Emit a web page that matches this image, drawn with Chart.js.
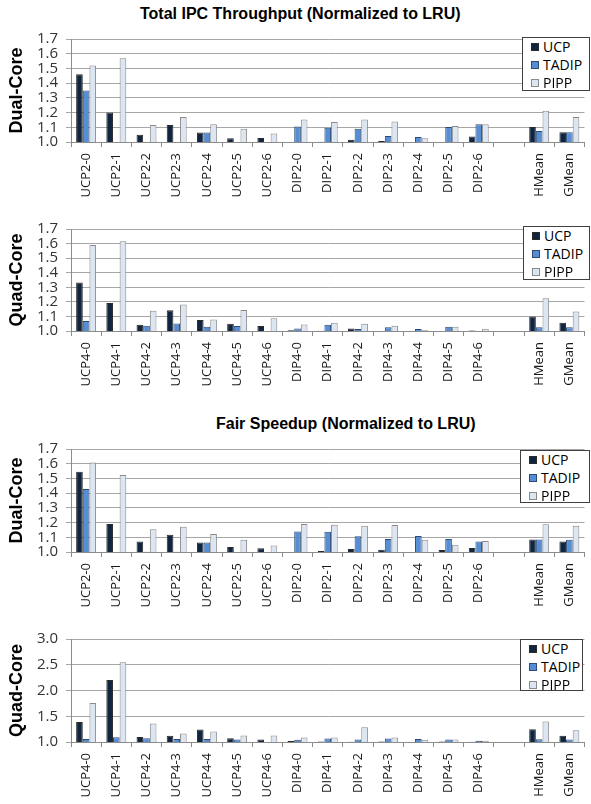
<!DOCTYPE html>
<html>
<head>
<meta charset="utf-8">
<script src="https://cdn.jsdelivr.net/npm/chart.js@4.4.1/dist/chart.umd.min.js"></script>
<style>
  html, body { margin: 0; padding: 0; background: #fff; }
  #page { position: relative; width: 591px; height: 804px; overflow: hidden; }
  .panel { position: absolute; left: 0; width: 591px; }
  .title { position: absolute; font: bold 16px "Liberation Sans", Arial, sans-serif; line-height: 16px; color: #000; white-space: nowrap; }
  .legend { position: absolute; box-sizing: border-box; border: 1px solid #404040; background: #fff;
            font: 14px "Open Sans", sans-serif; color: #000; }
  .legend .row { position: relative; height: 18px; line-height: 18px; }
  .legend .sw { position: absolute; left: 8px; top: 5px; width: 8px; height: 8px; box-sizing: border-box; border: 1px solid #404040; }
  .legend .tx { position: absolute; left: 20px; top: 0; }
</style>
</head>
<body>
<div id="page">
  <div class="title" style="left:140px;top:6px;">Total IPC Throughput (Normalized to LRU)</div>
  <div class="title" style="left:216px;top:416px;">Fair Speedup (Normalized to LRU)</div>
</div>
<script>
// Series names and colours
const seriesNames = ['UCP', 'TADIP', 'PIPP'];
const seriesFill = ['#10253f', '#558ed5', '#dce6f2'];
const seriesEdge = ['#2a2a2a', '#2e4a70', '#8a8a8a'];

// Workload categories (blank slot separates the means)
const dualCats = ['UCP2-0','UCP2-1','UCP2-2','UCP2-3','UCP2-4','UCP2-5','UCP2-6',
                  'DIP2-0','DIP2-1','DIP2-2','DIP2-3','DIP2-4','DIP2-5','DIP2-6','','HMean','GMean'];
const quadCats = ['UCP4-0','UCP4-1','UCP4-2','UCP4-3','UCP4-4','UCP4-5','UCP4-6',
                  'DIP4-0','DIP4-1','DIP4-2','DIP4-3','DIP4-4','DIP4-5','DIP4-6','','HMean','GMean'];

// Total IPC throughput, dual-core
const ipcDualUCP   = [1.46, 1.20, 1.05, 1.115, 1.064, 1.026, 1.028, 1.0, 1.002, 1.015, 1.006, 1.0, 1.0, 1.038, null, 1.102, 1.066];
const ipcDualTADIP = [1.35, 1.0, 1.0, 1.0, 1.064, 1.0, 1.0, 1.106, 1.096, 1.09, 1.04, 1.034, 1.102, 1.121, null, 1.074, 1.066];
const ipcDualPIPP  = [1.52, 1.57, 1.115, 1.17, 1.12, 1.09, 1.057, 1.153, 1.136, 1.153, 1.14, 1.026, 1.108, 1.121, null, 1.213, 1.17];

// Total IPC throughput, quad-core
const ipcQuadUCP   = [1.333, 1.193, 1.043, 1.142, 1.075, 1.049, 1.034, 1.006, 1.002, 1.017, 1.0, 1.0, 1.0, 1.004, null, 1.10, 1.056];
const ipcQuadTADIP = [1.069, 1.0, 1.036, 1.052, 1.03, 1.034, 1.0, 1.017, 1.043, 1.013, 1.026, 1.013, 1.03, 1.0, null, 1.026, 1.026];
const ipcQuadPIPP  = [1.59, 1.616, 1.139, 1.182, 1.079, 1.144, 1.088, 1.045, 1.056, 1.049, 1.036, 1.006, 1.03, 1.015, null, 1.225, 1.133];

// Fair speedup, dual-core
const fairDualUCP   = [1.545, 1.19, 1.072, 1.117, 1.064, 1.034, 1.026, 1.0, 1.006, 1.02, 1.015, 1.0, 1.013, 1.028, null, 1.085, 1.072];
const fairDualTADIP = [1.428, 1.0, 1.002, 1.002, 1.064, 1.0, 1.0, 1.14, 1.137, 1.107, 1.089, 1.108, 1.089, 1.072, null, 1.085, 1.083];
const fairDualPIPP  = [1.608, 1.523, 1.155, 1.172, 1.123, 1.083, 1.045, 1.19, 1.185, 1.179, 1.183, 1.083, 1.049, 1.074, null, 1.189, 1.179];

// Fair speedup, quad-core
const fairQuadUCP   = [1.386, 2.205, 1.096, 1.12, 1.241, 1.073, 1.048, 1.018, 1.012, 1.006, 1.012, 1.0, 1.01, 1.005, null, 1.248, 1.12];
const fairQuadTADIP = [1.06, 1.09, 1.072, 1.06, 1.06, 1.048, 1.0, 1.042, 1.067, 1.048, 1.067, 1.06, 1.048, 1.024, null, 1.055, 1.048];
const fairQuadPIPP  = [1.759, 2.548, 1.361, 1.163, 1.205, 1.127, 1.127, 1.085, 1.085, 1.285, 1.085, 1.042, 1.048, 1.024, null, 1.4, 1.23];

// Axis ranges
const smallAxis = { min: 1.0, max: 1.7, step: 0.1 };
const wideAxis  = { min: 1.0, max: 3.0, step: 0.5 };

const panels = [
  { top: 22,  plotH: 110, cats: dualCats, axis: smallAxis, yTitle: 'Dual-Core',
    series: [ipcDualUCP, ipcDualTADIP, ipcDualPIPP],
    legend: { left: 522, top: 37, width: 68, height: 54 } },
  { top: 212, plotH: 109, cats: quadCats, axis: smallAxis, yTitle: 'Quad-Core',
    series: [ipcQuadUCP, ipcQuadTADIP, ipcQuadPIPP],
    legend: { left: 523, top: 226, width: 67, height: 54 } },
  { top: 432, plotH: 110, cats: dualCats, axis: smallAxis, yTitle: 'Dual-Core',
    series: [fairDualUCP, fairDualTADIP, fairDualPIPP],
    legend: { left: 520, top: 450, width: 70, height: 53 } },
  { top: 622, plotH: 110, cats: quadCats, axis: wideAxis, yTitle: 'Quad-Core',
    series: [fairQuadUCP, fairQuadTADIP, fairQuadPIPP],
    legend: { left: 520, top: 639, width: 63, height: 52 } }
];

const PAD_TOP = 10;
const X_AXIS_H = 60;
const Y_AXIS_W = 71;
const page = document.getElementById('page');

panels.forEach(function (p) {
  const holder = document.createElement('div');
  holder.className = 'panel';
  holder.style.top = p.top + 'px';
  const h = PAD_TOP + p.plotH + X_AXIS_H;
  holder.style.height = h + 'px';
  const cv = document.createElement('canvas');
  holder.appendChild(cv);
  page.appendChild(holder);

  new Chart(cv, {
    type: 'bar',
    data: {
      labels: p.cats,
      datasets: p.series.map(function (vals, i) {
        return {
          label: seriesNames[i],
          data: vals,
          backgroundColor: seriesFill[i],
          borderColor: seriesEdge[i],
          borderWidth: 1,
          borderSkipped: 'bottom',
          categoryPercentage: 0.66,
          barPercentage: 1.0
        };
      })
    },
    options: {
      responsive: true,
      maintainAspectRatio: false,
      animation: false,
      events: [],
      layout: { padding: { top: PAD_TOP, right: 1, left: 0, bottom: 0 } },
      plugins: { legend: { display: false }, title: { display: false }, tooltip: { enabled: false } },
      scales: {
        x: {
          offset: true,
          grid: { offset: true, drawOnChartArea: false, drawTicks: true, tickLength: 5, color: '#8c8c8c' },
          border: { color: '#8c8c8c', width: 1 },
          ticks: {
            autoSkip: false, maxRotation: 90, minRotation: 90, padding: 6,
            color: '#1a1a1a', font: { family: 'Open Sans', size: 13 }
          },
          afterFit: function (s) { s.height = X_AXIS_H; }
        },
        y: {
          min: p.axis.min, max: p.axis.max,
          grid: { color: '#a6a6a6', lineWidth: 1, drawTicks: true, tickLength: 5 },
          border: { color: '#8c8c8c', width: 1 },
          ticks: {
            stepSize: p.axis.step, autoSkip: false, padding: 8, color: '#333',
            font: { family: 'Open Sans', size: 15 },
            callback: function (v) { return Number(v).toFixed(1); }
          },
          title: {
            display: true, text: p.yTitle, color: '#000',
            font: { family: 'Liberation Sans', size: 18, weight: 'bold' },
            padding: { top: 6, bottom: 0 }
          },
          afterFit: function (s) { s.width = Y_AXIS_W; }
        }
      }
    }
  });

  // Boxed legend inside the plot's upper-right corner
  const lg = document.createElement('div');
  lg.className = 'legend';
  lg.style.left = p.legend.left + 'px';
  lg.style.top = p.legend.top + 'px';
  lg.style.width = p.legend.width + 'px';
  lg.style.height = p.legend.height + 'px';
  seriesNames.forEach(function (name, i) {
    const row = document.createElement('div');
    row.className = 'row';
    const sw = document.createElement('span');
    sw.className = 'sw';
    sw.style.background = seriesFill[i];
    sw.style.borderColor = seriesEdge[i];
    const tx = document.createElement('span');
    tx.className = 'tx';
    tx.textContent = name;
    row.appendChild(sw);
    row.appendChild(tx);
    lg.appendChild(row);
  });
  page.appendChild(lg);
});
</script>
</body>
</html>
